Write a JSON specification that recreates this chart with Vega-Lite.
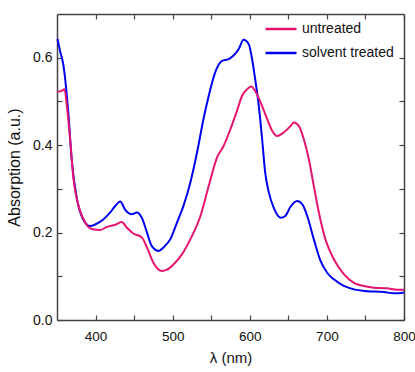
{
  "$schema": "https://vega.github.io/schema/vega-lite/v6.json",
  "autosize": {"type": "none"},
  "width": 347,
  "height": 306,
  "padding": {"left": 57, "top": 14, "right": 11, "bottom": 52},
  "background": "white",
  "config": {
    "view": {"stroke": null},
    "font": "Liberation Sans",
    "axis": {"grid": false, "labelFlush": false, "domainColor": "#444", "domainWidth": 1.5, "tickColor": "#444", "tickWidth": 1.2, "labelColor": "#111", "titleColor": "#111", "labelFont": "Liberation Sans", "titleFont": "Liberation Sans", "titleFontWeight": "normal"}
  },
  "data": {"values": [
    {"x": 350.6, "y": 0.643, "s": "solvent treated"},
    {"x": 354, "y": 0.615, "s": "solvent treated"},
    {"x": 358.4, "y": 0.582, "s": "solvent treated"},
    {"x": 365, "y": 0.467, "s": "solvent treated"},
    {"x": 369, "y": 0.368, "s": "solvent treated"},
    {"x": 376, "y": 0.276, "s": "solvent treated"},
    {"x": 384, "y": 0.23, "s": "solvent treated"},
    {"x": 393, "y": 0.215, "s": "solvent treated"},
    {"x": 400, "y": 0.219, "s": "solvent treated"},
    {"x": 410, "y": 0.23, "s": "solvent treated"},
    {"x": 419, "y": 0.246, "s": "solvent treated"},
    {"x": 426, "y": 0.262, "s": "solvent treated"},
    {"x": 432, "y": 0.271, "s": "solvent treated"},
    {"x": 438.5, "y": 0.252, "s": "solvent treated"},
    {"x": 447, "y": 0.242, "s": "solvent treated"},
    {"x": 453.7, "y": 0.246, "s": "solvent treated"},
    {"x": 460, "y": 0.234, "s": "solvent treated"},
    {"x": 466.7, "y": 0.2, "s": "solvent treated"},
    {"x": 473, "y": 0.169, "s": "solvent treated"},
    {"x": 482, "y": 0.158, "s": "solvent treated"},
    {"x": 488, "y": 0.166, "s": "solvent treated"},
    {"x": 497, "y": 0.185, "s": "solvent treated"},
    {"x": 505.6, "y": 0.223, "s": "solvent treated"},
    {"x": 514, "y": 0.261, "s": "solvent treated"},
    {"x": 523, "y": 0.315, "s": "solvent treated"},
    {"x": 531.6, "y": 0.383, "s": "solvent treated"},
    {"x": 540, "y": 0.46, "s": "solvent treated"},
    {"x": 546.8, "y": 0.513, "s": "solvent treated"},
    {"x": 555, "y": 0.566, "s": "solvent treated"},
    {"x": 564, "y": 0.593, "s": "solvent treated"},
    {"x": 572.7, "y": 0.597, "s": "solvent treated"},
    {"x": 579, "y": 0.605, "s": "solvent treated"},
    {"x": 585.7, "y": 0.62, "s": "solvent treated"},
    {"x": 592, "y": 0.641, "s": "solvent treated"},
    {"x": 598.7, "y": 0.631, "s": "solvent treated"},
    {"x": 603, "y": 0.597, "s": "solvent treated"},
    {"x": 607, "y": 0.551, "s": "solvent treated"},
    {"x": 611.7, "y": 0.49, "s": "solvent treated"},
    {"x": 616, "y": 0.414, "s": "solvent treated"},
    {"x": 620, "y": 0.337, "s": "solvent treated"},
    {"x": 624.7, "y": 0.292, "s": "solvent treated"},
    {"x": 631, "y": 0.257, "s": "solvent treated"},
    {"x": 640, "y": 0.234, "s": "solvent treated"},
    {"x": 646, "y": 0.238, "s": "solvent treated"},
    {"x": 652.8, "y": 0.259, "s": "solvent treated"},
    {"x": 661.5, "y": 0.272, "s": "solvent treated"},
    {"x": 668, "y": 0.265, "s": "solvent treated"},
    {"x": 674.5, "y": 0.238, "s": "solvent treated"},
    {"x": 683, "y": 0.185, "s": "solvent treated"},
    {"x": 691.8, "y": 0.135, "s": "solvent treated"},
    {"x": 700.4, "y": 0.108, "s": "solvent treated"},
    {"x": 709, "y": 0.093, "s": "solvent treated"},
    {"x": 722, "y": 0.078, "s": "solvent treated"},
    {"x": 735, "y": 0.07, "s": "solvent treated"},
    {"x": 752, "y": 0.066, "s": "solvent treated"},
    {"x": 774, "y": 0.064, "s": "solvent treated"},
    {"x": 787, "y": 0.061, "s": "solvent treated"},
    {"x": 800, "y": 0.063, "s": "solvent treated"},
    {"x": 350.6, "y": 0.522, "s": "untreated"},
    {"x": 356, "y": 0.524, "s": "untreated"},
    {"x": 359.7, "y": 0.528, "s": "untreated"},
    {"x": 362.8, "y": 0.49, "s": "untreated"},
    {"x": 367, "y": 0.414, "s": "untreated"},
    {"x": 371.4, "y": 0.322, "s": "untreated"},
    {"x": 378, "y": 0.261, "s": "untreated"},
    {"x": 386.6, "y": 0.223, "s": "untreated"},
    {"x": 395, "y": 0.208, "s": "untreated"},
    {"x": 406, "y": 0.206, "s": "untreated"},
    {"x": 414.7, "y": 0.213, "s": "untreated"},
    {"x": 425.5, "y": 0.218, "s": "untreated"},
    {"x": 434, "y": 0.224, "s": "untreated"},
    {"x": 440.7, "y": 0.211, "s": "untreated"},
    {"x": 449, "y": 0.198, "s": "untreated"},
    {"x": 460, "y": 0.189, "s": "untreated"},
    {"x": 466.7, "y": 0.166, "s": "untreated"},
    {"x": 475, "y": 0.131, "s": "untreated"},
    {"x": 486, "y": 0.112, "s": "untreated"},
    {"x": 492.6, "y": 0.115, "s": "untreated"},
    {"x": 501, "y": 0.127, "s": "untreated"},
    {"x": 512, "y": 0.15, "s": "untreated"},
    {"x": 523, "y": 0.185, "s": "untreated"},
    {"x": 536, "y": 0.238, "s": "untreated"},
    {"x": 546.8, "y": 0.307, "s": "untreated"},
    {"x": 557.6, "y": 0.372, "s": "untreated"},
    {"x": 566, "y": 0.398, "s": "untreated"},
    {"x": 575, "y": 0.437, "s": "untreated"},
    {"x": 583.5, "y": 0.479, "s": "untreated"},
    {"x": 590, "y": 0.513, "s": "untreated"},
    {"x": 596.5, "y": 0.528, "s": "untreated"},
    {"x": 601.7, "y": 0.534, "s": "untreated"},
    {"x": 607, "y": 0.524, "s": "untreated"},
    {"x": 614, "y": 0.498, "s": "untreated"},
    {"x": 622.5, "y": 0.46, "s": "untreated"},
    {"x": 629, "y": 0.433, "s": "untreated"},
    {"x": 635.5, "y": 0.421, "s": "untreated"},
    {"x": 644, "y": 0.429, "s": "untreated"},
    {"x": 653, "y": 0.444, "s": "untreated"},
    {"x": 657, "y": 0.452, "s": "untreated"},
    {"x": 663.6, "y": 0.444, "s": "untreated"},
    {"x": 670, "y": 0.414, "s": "untreated"},
    {"x": 676.6, "y": 0.368, "s": "untreated"},
    {"x": 683, "y": 0.307, "s": "untreated"},
    {"x": 689.6, "y": 0.246, "s": "untreated"},
    {"x": 698, "y": 0.185, "s": "untreated"},
    {"x": 709, "y": 0.139, "s": "untreated"},
    {"x": 722, "y": 0.105, "s": "untreated"},
    {"x": 735, "y": 0.085, "s": "untreated"},
    {"x": 748, "y": 0.078, "s": "untreated"},
    {"x": 761, "y": 0.074, "s": "untreated"},
    {"x": 778, "y": 0.0725, "s": "untreated"},
    {"x": 791, "y": 0.069, "s": "untreated"},
    {"x": 800, "y": 0.069, "s": "untreated"}
  ]},
  "layer": [
    {
      "mark": {"type": "line", "strokeWidth": 2, "interpolate": "monotone"},
      "encoding": {
        "x": {"field": "x", "type": "quantitative", "scale": {"domain": [350, 800], "nice": false, "zero": false},
          "axis": {"orient": "bottom", "values": [400, 450, 500, 550, 600, 650, 700, 750, 800], "labelExpr": "datum.value % 100 == 0 ? datum.label : ''", "tickSize": -5, "labelPadding": 14, "labelFontSize": 13.5, "title": "λ (nm)", "titleFontSize": 15, "titlePadding": 8}},
        "y": {"field": "y", "type": "quantitative", "scale": {"domain": [0, 0.7], "nice": false},
          "axis": {"orient": "left", "values": [0, 0.1, 0.2, 0.3, 0.4, 0.5, 0.6], "labelExpr": "(round(datum.value*10) % 2 == 0) ? format(datum.value, '.1f') : ''", "tickSize": -5, "labelPadding": 10, "labelFontSize": 14, "title": "Absorption (a.u.)", "titleFontSize": 16, "titlePadding": 10}},
        "color": {"field": "s", "type": "nominal", "scale": {"domain": ["untreated", "solvent treated"], "range": ["#e6146e", "#0000f0"]},
          "legend": {"title": null, "orient": "none", "legendX": 207, "legendY": -2, "symbolType": "stroke", "symbolSize": 961, "symbolStrokeWidth": 2.5, "labelFontSize": 14, "labelOffset": 4, "labelColor": "#111", "rowPadding": -4, "padding": 0}},
        "detail": {"field": "s"}
      }
    },
    {
      "mark": {"type": "line", "strokeOpacity": 0},
      "encoding": {
        "x": {"field": "x", "type": "quantitative", "axis": {"orient": "top", "values": [400, 450, 500, 550, 600, 650, 700, 750, 800], "labels": false, "tickSize": -5, "title": null}},
        "y": {"field": "y", "type": "quantitative", "axis": {"orient": "right", "values": [0, 0.1, 0.2, 0.3, 0.4, 0.5, 0.6], "labels": false, "tickSize": -5, "title": null}},
        "detail": {"field": "s"}
      }
    }
  ],
  "resolve": {"axis": {"x": "independent", "y": "independent"}}
}
